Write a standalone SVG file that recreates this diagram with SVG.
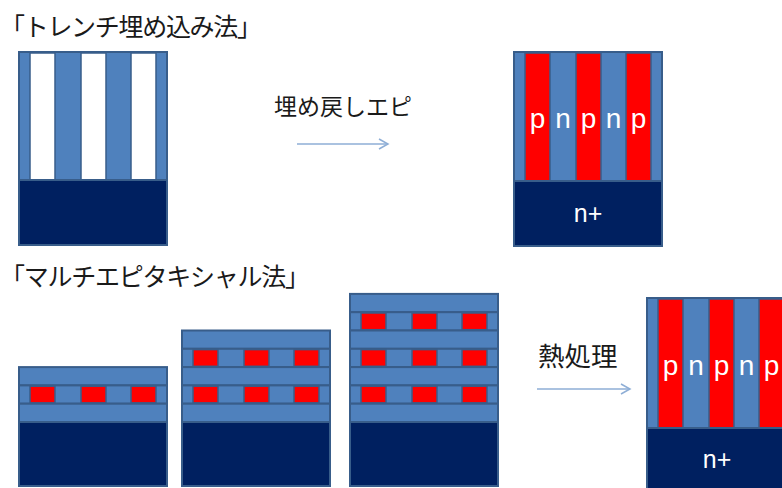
<svg xmlns="http://www.w3.org/2000/svg" width="782" height="488" viewBox="0 0 782 488">
<style>
.b{fill:#4f81bd;stroke:#385d8a;stroke-width:2}
.w{fill:#ffffff;stroke:#385d8a;stroke-width:1.5}
.r{fill:#ff0000;stroke:#385d8a;stroke-width:1.5}
.d{fill:#002060;stroke:#385d8a;stroke-width:2}
.jp{font-family:"Noto Sans CJK JP","Noto Sans",sans-serif;fill:#1a1a1a}
.lb{font-family:"Liberation Sans",Arial,sans-serif;fill:#ffffff;text-anchor:middle}
.ar{stroke:#8eaed6;stroke-width:1.5;fill:none}
</style>
<defs>
<marker id="ah" markerWidth="12" markerHeight="12" refX="10" refY="6" orient="auto" markerUnits="userSpaceOnUse">
<path d="M1,1 L10,6 L1,11" fill="none" stroke="#8eaed6" stroke-width="1.5"/>
</marker>
</defs>
<rect width="782" height="488" fill="#ffffff"/>

<text class="jp" x="0" y="36" font-size="25" textLength="262" lengthAdjust="spacing">「トレンチ埋め込み法」</text>
<text class="jp" x="0" y="286" font-size="25" textLength="310" lengthAdjust="spacing">「マルチエピタキシャル法」</text>

<g id="trench-before">
<rect class="b" x="19" y="52" width="148" height="128"/>
<rect class="w" x="30" y="53" width="25" height="127"/>
<rect class="w" x="81" y="53" width="25" height="127"/>
<rect class="w" x="131" y="53" width="25" height="127"/>
<rect class="d" x="19" y="180" width="148" height="65"/>
</g>

<g id="trench-after">
<rect class="b" x="514" y="52" width="148" height="129"/>
<rect class="r" x="525" y="53" width="25" height="128"/>
<rect class="r" x="576" y="53" width="25" height="128"/>
<rect class="r" x="626" y="53" width="25" height="128"/>
<rect class="d" x="514" y="181" width="148" height="65"/>
<text class="lb" font-size="28" x="537.5" y="128">p</text>
<text class="lb" font-size="28" x="563" y="128">n</text>
<text class="lb" font-size="28" x="588.5" y="128">p</text>
<text class="lb" font-size="28" x="613.5" y="128">n</text>
<text class="lb" font-size="28" x="638.5" y="128">p</text>
<text class="lb" font-size="25" x="588" y="222">n+</text>
</g>

<g id="epi-1">
<rect class="b" x="19" y="367.1" width="148" height="18.3"/>
<rect class="b" x="19" y="385.4" width="148" height="18.3"/>
<rect class="r" x="30" y="386.2" width="25" height="16.7"/>
<rect class="r" x="81" y="386.2" width="25" height="16.7"/>
<rect class="r" x="131" y="386.2" width="25" height="16.7"/>
<rect class="b" x="19" y="403.7" width="148" height="18.3"/>
<rect class="d" x="19" y="422" width="148" height="64"/>
</g>

<g id="epi-2">
<rect class="b" x="182" y="330.5" width="148" height="18.3"/>
<rect class="b" x="182" y="348.8" width="148" height="18.3"/>
<rect class="r" x="193" y="349.6" width="25" height="16.7"/>
<rect class="r" x="244" y="349.6" width="25" height="16.7"/>
<rect class="r" x="294" y="349.6" width="25" height="16.7"/>
<rect class="b" x="182" y="367.1" width="148" height="18.3"/>
<rect class="b" x="182" y="385.4" width="148" height="18.3"/>
<rect class="r" x="193" y="386.2" width="25" height="16.7"/>
<rect class="r" x="244" y="386.2" width="25" height="16.7"/>
<rect class="r" x="294" y="386.2" width="25" height="16.7"/>
<rect class="b" x="182" y="403.7" width="148" height="18.3"/>
<rect class="d" x="182" y="422" width="148" height="64"/>
</g>

<g id="epi-3">
<rect class="b" x="350" y="293.9" width="148" height="18.3"/>
<rect class="b" x="350" y="312.2" width="148" height="18.3"/>
<rect class="r" x="361" y="313" width="25" height="16.7"/>
<rect class="r" x="412" y="313" width="25" height="16.7"/>
<rect class="r" x="462" y="313" width="25" height="16.7"/>
<rect class="b" x="350" y="330.5" width="148" height="18.3"/>
<rect class="b" x="350" y="348.8" width="148" height="18.3"/>
<rect class="r" x="361" y="349.6" width="25" height="16.7"/>
<rect class="r" x="412" y="349.6" width="25" height="16.7"/>
<rect class="r" x="462" y="349.6" width="25" height="16.7"/>
<rect class="b" x="350" y="367.1" width="148" height="18.3"/>
<rect class="b" x="350" y="385.4" width="148" height="18.3"/>
<rect class="r" x="361" y="386.2" width="25" height="16.7"/>
<rect class="r" x="412" y="386.2" width="25" height="16.7"/>
<rect class="r" x="462" y="386.2" width="25" height="16.7"/>
<rect class="b" x="350" y="403.7" width="148" height="18.3"/>
<rect class="d" x="350" y="422" width="148" height="64"/>
</g>

<g id="epi-after">
<rect class="b" x="647" y="298" width="148" height="130"/>
<rect class="r" x="658" y="299" width="25" height="129"/>
<rect class="r" x="709" y="299" width="25" height="129"/>
<rect class="r" x="759" y="299" width="25" height="129"/>
<rect class="d" x="647" y="428" width="148" height="70"/>
<text class="lb" font-size="28" x="670.5" y="375">p</text>
<text class="lb" font-size="28" x="696" y="375">n</text>
<text class="lb" font-size="28" x="721.5" y="375">p</text>
<text class="lb" font-size="28" x="746.5" y="375">n</text>
<text class="lb" font-size="28" x="771.5" y="375">p</text>
<text class="lb" font-size="25" x="717" y="468">n+</text>
</g>

<g id="connectors">
<line class="ar" x1="297" y1="144" x2="388" y2="144" marker-end="url(#ah)"/>
<line class="ar" x1="537" y1="389" x2="630" y2="389" marker-end="url(#ah)"/>
</g>

<g id="labels">
<text class="jp" x="274" y="115" font-size="23">埋め戻しエピ</text>
<text class="jp" x="538" y="366" font-size="26.5">熱処理</text>
</g>
</svg>
